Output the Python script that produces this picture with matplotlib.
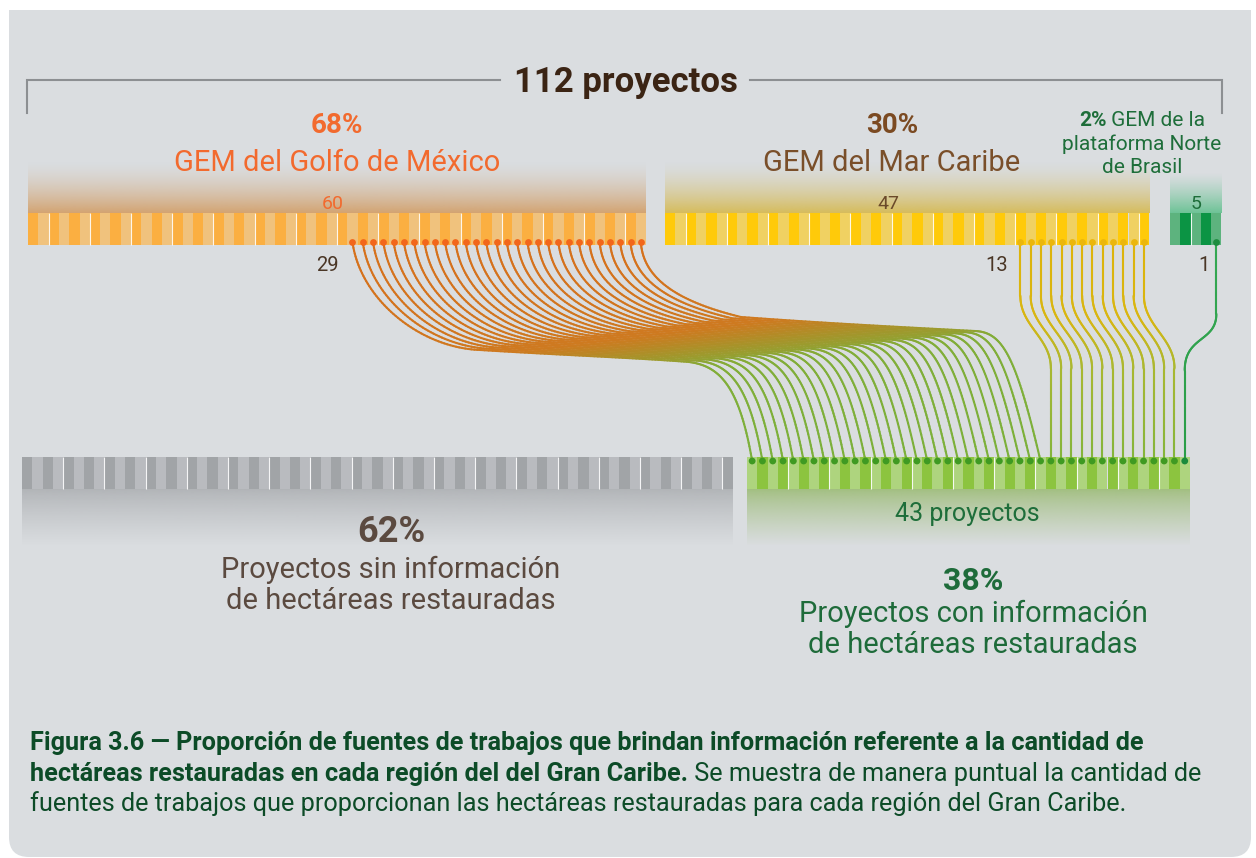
import numpy as np
import matplotlib
matplotlib.use("Agg")
import matplotlib.pyplot as plt
from matplotlib.collections import LineCollection
from matplotlib.colors import LinearSegmentedColormap, to_rgba
from matplotlib.patches import FancyBboxPatch, Rectangle

plt.rcParams["font.family"] = ["Roboto", "DejaVu Sans"]

# proyectos por región y cuántos reportan hectáreas restauradas
regiones = ["GEM del Golfo de México", "GEM del Mar Caribe", "GEM de la plataforma Norte de Brasil"]
pct_region = ["68%", "30%", "2%"]
proyectos = [60, 47, 5]
con_hectareas = [29, 13, 1]

total = sum(proyectos)
n_con = sum(con_hectareas)
n_sin = total - n_con
pct_sin = round(100 * n_sin / total)
pct_con = round(100 * n_con / total)

# layout (pixel units, y downwards)
W = 10.3
BAR_H = 32
TOP_Y = 213
BOT_Y = 457
top_x0 = [28, 665, 1170]
sin_x0, con_x0 = 22, 747
PANEL = "#DADDE0"

top_cols = [("#FBAF41", "#F0C27D"), ("#FFCA0A", "#F0D162"), ("#0B9444", "#5DB37E")]
top_start_light = [False, False, True]
dot_cols = ["#F2661B", "#EBB60C", "#1D8C3F"]
link_cmaps = [
    LinearSegmentedColormap.from_list("golfo", [(0, "#D6701C"), (0.38, "#CE7A20"), (0.55, "#A8932A"), (0.75, "#82AD38"), (1, "#7CB03A")]),
    LinearSegmentedColormap.from_list("caribe", [(0, "#DDB40A"), (0.35, "#D8B612"), (0.6, "#A9B832"), (1, "#84B53C")]),
    LinearSegmentedColormap.from_list("brasil", ["#35A853", "#2A9D48"]),
]

fig = plt.figure(figsize=(12.56, 8.58), dpi=100)
ax = fig.add_axes([0, 0, 1, 1])
ax.set_xlim(0, 1256)
ax.set_ylim(858, 0)
ax.axis("off")
renderer = fig.canvas.get_renderer()

# background panel: square top corners, rounded bottom ones
ax.add_patch(FancyBboxPatch((9, 10), 1242, 847, boxstyle="round,pad=0,rounding_size=20",
                            fc=PANEL, ec="none", zorder=0))
ax.add_patch(Rectangle((9, 10), 1242, 60, fc=PANEL, ec="none", zorder=0))


def vgrad(x0, x1, y0, y1, color, a_top, a_bot, power=1.0):
    n = 100
    a = a_top + (a_bot - a_top) * np.linspace(0, 1, n) ** power
    img = np.zeros((n, 1, 4))
    img[:, 0, :3] = to_rgba(color)[:3]
    img[:, 0, 3] = a
    ax.imshow(img, extent=(x0, x1, y1, y0), aspect="auto", origin="upper",
              interpolation="bilinear", zorder=1)


def cell_bar(x0, n, y0, dark, light, start_light, sep_mod):
    xs = x0 + W * (np.arange(n) + 0.5)
    cols = [(light if (i % 2 == 0) == start_light else dark) for i in range(n)]
    ax.bar(xs, BAR_H, width=W, bottom=y0, color=cols, linewidth=0, zorder=2)
    seps = [x0 + W * i for i in range(1, n) if i % 4 == sep_mod]
    ax.vlines(seps, y0, y0 + BAR_H, color="white", lw=0.8, alpha=0.9, zorder=2.5)
    return xs


def bez(p0, p1, p2, p3, n=60):
    t = np.linspace(0, 1, n)[:, None]
    p0, p1, p2, p3 = map(np.asarray, (p0, p1, p2, p3))
    return (1 - t) ** 3 * p0 + 3 * (1 - t) ** 2 * t * p1 + 3 * (1 - t) * t ** 2 * p2 + t ** 3 * p3


def draw_link(pts, cmap, lw=1.5):
    seg_t = np.linspace(0, 1, len(pts) - 1)
    segs = np.stack([pts[:-1], pts[1:]], axis=1)
    lc = LineCollection(segs, colors=cmap(seg_t), linewidths=lw, capstyle="round", zorder=3)
    ax.add_collection(lc)


def lerp(a, b, f):
    return a + (b - a) * f


# gradient bands above the regional bars
vgrad(28, 28 + W * proyectos[0], 160, TOP_Y, "#D3A472", 0, 1, 1.6)
vgrad(665, 665 + W * proyectos[1], 160, TOP_Y, "#D6BC5C", 0, 1, 1.6)
vgrad(1170, 1170 + W * proyectos[2], 172, TOP_Y, "#6DC396", 0, 1, 1.3)

# top bars
top_xs = []
for r in range(3):
    dk, lt = top_cols[r]
    top_xs.append(cell_bar(top_x0[r], proyectos[r], TOP_Y, dk, lt, top_start_light[r], 2))

# bottom bars
vgrad(sin_x0, sin_x0 + W * n_sin, BOT_Y + BAR_H, 546, "#B1B4B7", 1, 0, 0.8)
vgrad(con_x0, con_x0 + W * n_con, BOT_Y + BAR_H, 546, "#A2BF80", 1, 0, 0.8)
cell_bar(sin_x0, n_sin, BOT_Y, "#A1A4A7", "#B9BBBF", False, 0)
con_xs = cell_bar(con_x0, n_con, BOT_Y, "#8CC43F", "#AED47E", True, 0)

# links from each region's reporting projects to the bottom bar
y_top, y_bot = TOP_Y + 29, BOT_Y + 4
k0 = 0
for r in range(3):
    m = con_hectareas[r]
    src = top_xs[r][-m:]
    dst = con_xs[k0:k0 + m]
    for j, (xt, xb) in enumerate(zip(src, dst)):
        if r == 0:
            f = j / max(m - 1, 1)
            A = (xt + lerp(128, 100, f), lerp(350, 317, f))
            B = (xb - lerp(63, 66, f), lerp(362, 331, f))
            p = np.vstack([
                bez((xt, y_top), (xt + lerp(8, 2, f), lerp(300, 275, f)),
                    (xt + lerp(68, 30, f), lerp(348, 300, f)), A),
                bez(A, (A[0] + 80, lerp(355, 323, f)), (B[0] - lerp(50, 75, f), lerp(358, 327, f)), B),
                bez(B, (B[0] + lerp(30, 28, f), lerp(366, 332, f)),
                    (xb - lerp(13, 25, f), lerp(385, 355, f)), (xb, y_bot)),
            ])
        elif r == 1:
            p = np.vstack([
                [(xt, y_top)],
                bez((xt, 296), (xt, 326), (xb, 338), (xb, 368)),
                [(xb, y_bot)],
            ])
        else:
            p = np.vstack([
                [(xt, y_top)],
                bez((xt, 314), (xt, 342), (xb, 336), (xb, 370)),
                [(xb, y_bot)],
            ])
        if r > 0:
            # resample straight parts so the colour ramp runs along the whole path
            d = np.r_[0, np.cumsum(np.hypot(*np.diff(p, axis=0).T))]
            s = np.linspace(0, d[-1], 200)
            p = np.column_stack([np.interp(s, d, p[:, 0]), np.interp(s, d, p[:, 1])])
        draw_link(p, link_cmaps[r])
    ax.scatter(src, [y_top] * m, s=24, color=dot_cols[r], zorder=4, linewidths=0)
    k0 += m

bot_dot_cols = ["#3F9A22"] * (n_con - con_hectareas[2]) + ["#1B8A3C"] * con_hectareas[2]
ax.scatter(con_xs, [y_bot] * n_con, s=24, color=bot_dot_cols, zorder=4, linewidths=0)

# counts next to the bars
count_cols = ["#F26A2E", "#6B4A2A", "#1E6E3A"]
count_x = [333, 888, 1196]
label_gap = [14, 12, 7]
for r in range(3):
    ax.text(count_x[r], 209, str(proyectos[r]), ha="center", va="baseline",
            fontsize=14, color=count_cols[r])
    ax.text(top_xs[r][-con_hectareas[r]] - label_gap[r], 271, str(con_hectareas[r]), ha="right",
            va="baseline", fontsize=14.5, color="#4A3626")

# header and bracket
t = ax.text(626, 92, f"{total} proyectos", ha="center", va="baseline", fontsize=25,
            fontweight="bold", color="#3B2414")
bb = t.get_window_extent(renderer=renderer)
ax.plot([27, 27, bb.x0 - 14], [113, 80, 80], color="#8C8F92", lw=1.5, solid_joinstyle="miter", zorder=1)
ax.plot([bb.x1 + 12, 1222, 1222], [80, 80, 113], color="#8C8F92", lw=1.5, solid_joinstyle="miter", zorder=1)

# region titles
ax.text(337, 133, pct_region[0], ha="center", va="baseline", fontsize=20, fontweight="bold", color="#F26A2E")
ax.text(337, 171, regiones[0], ha="center", va="baseline", fontsize=21, color="#F26A2E")
ax.text(892, 133, pct_region[1], ha="center", va="baseline", fontsize=20, fontweight="bold", color="#7B4A22")
ax.text(892, 171, regiones[1], ha="center", va="baseline", fontsize=21, color="#7A4F2A")


def rich_line(x, y, runs, color, size, align="left"):
    objs = []
    cx = x
    for s, wt in runs:
        tx = ax.text(cx, y, s, color=color, fontsize=size, fontweight=wt, ha="left", va="baseline")
        cx += tx.get_window_extent(renderer=renderer).width
        objs.append(tx)
    if align == "center":
        shift = (cx - x) / 2
        for tx in objs:
            tx.set_x(tx.get_position()[0] - shift)


br_words = regiones[2].split(" ")
rich_line(1142, 126, [(pct_region[2], "bold"), (" " + " ".join(br_words[:3]), "normal")], "#1E6E3A", 15, "center")
ax.text(1142, 150, " ".join(br_words[3:5]), ha="center", va="baseline", fontsize=15, color="#1E6E3A")
ax.text(1142, 173, " ".join(br_words[5:]), ha="center", va="baseline", fontsize=15, color="#1E6E3A")

# bottom labels
ax.text(967, 521, f"{n_con} proyectos", ha="center", va="baseline", fontsize=18, color="#1E6E3A")
ax.text(391, 542, f"{pct_sin}%", ha="center", va="baseline", fontsize=26, fontweight="bold", color="#5B4A40")
ax.text(391, 578, "Proyectos sin información", ha="center", va="baseline", fontsize=21, color="#5B4A40")
ax.text(391, 609, "de hectáreas restauradas", ha="center", va="baseline", fontsize=21, color="#5B4A40")
ax.text(973, 590, f"{pct_con}%", ha="center", va="baseline", fontsize=23, fontweight="bold", color="#1E6B3A")
ax.text(973, 622, "Proyectos con información", ha="center", va="baseline", fontsize=21, color="#1E6B3A")
ax.text(973, 653, "de hectáreas restauradas", ha="center", va="baseline", fontsize=21, color="#1E6B3A")

# caption
cap = "#0C4B27"
rich_line(30, 750, [("Figura 3.6 — Proporción de fuentes de trabajos que brindan información referente a la cantidad de", "bold")], cap, 18.2)
rich_line(30, 781, [("hectáreas restauradas en cada región del del Gran Caribe.", "bold"),
                    (" Se muestra de manera puntual la cantidad de", "normal")], cap, 18.2)
rich_line(30, 811, [("fuentes de trabajos que proporcionan las hectáreas restauradas para cada región del Gran Caribe.", "normal")], cap, 18.2)

ax.set_xlim(0, 1256)
ax.set_ylim(858, 0)
fig.savefig("out.png", dpi=100, facecolor="white")
